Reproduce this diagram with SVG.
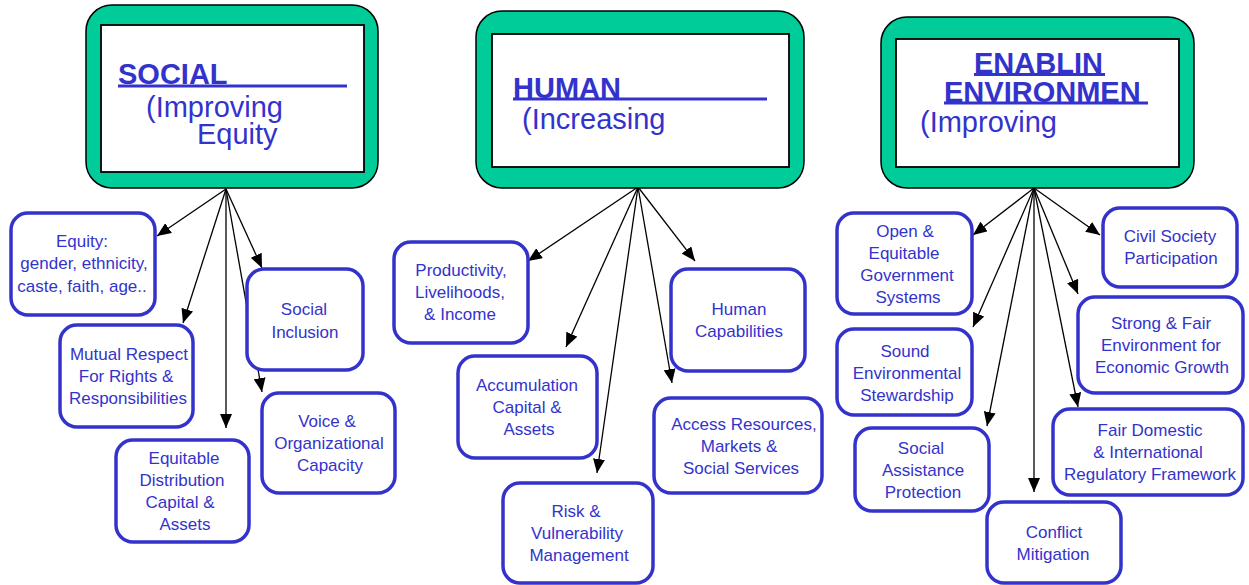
<svg xmlns="http://www.w3.org/2000/svg" width="1249" height="585" viewBox="0 0 1249 585">
<defs>
<style>
.hdr-out{fill:#00CC99;stroke:#000;stroke-width:1.5}
.hdr-in{fill:#fff;stroke:#000;stroke-width:1.8}
.hb{font-family:"Liberation Sans",Arial,sans-serif;font-size:29px;font-weight:bold;fill:#3333CC}
.hr{font-family:"Liberation Sans",Arial,sans-serif;font-size:29px;fill:#3333CC}
.ul{stroke:#3333CC;stroke-width:2.8}
.box{fill:#fff;stroke:#3333CC;stroke-width:3.5}
.bt{font-family:"Liberation Sans",Arial,sans-serif;font-size:17px;fill:#3333CC;text-anchor:middle}
.con{stroke:#000;stroke-width:1.3;fill:none;marker-end:url(#ah)}
</style>
<marker id="ah" markerUnits="userSpaceOnUse" markerWidth="14" markerHeight="12" refX="14" refY="6" orient="auto">
<path d="M0,0 L14,6 L0,12 Z" fill="#000"/>
</marker>
</defs>
<rect width="1249" height="585" fill="#fff"/>

<g id="connectors">
<line class="con" x1="226" y1="189" x2="157" y2="236"/>
<line class="con" x1="226" y1="189" x2="183" y2="323"/>
<line class="con" x1="226" y1="189" x2="226" y2="428"/>
<line class="con" x1="226" y1="189" x2="262" y2="268"/>
<line class="con" x1="226" y1="189" x2="262" y2="392"/>

<line class="con" x1="638" y1="187" x2="528" y2="261"/>
<line class="con" x1="638" y1="187" x2="566" y2="347"/>
<line class="con" x1="638" y1="187" x2="597" y2="473"/>
<line class="con" x1="638" y1="187" x2="672" y2="383"/>
<line class="con" x1="638" y1="187" x2="695" y2="261"/>

<line class="con" x1="1034" y1="188" x2="973" y2="235"/>
<line class="con" x1="1034" y1="188" x2="973" y2="327"/>
<line class="con" x1="1034" y1="188" x2="987" y2="426"/>
<line class="con" x1="1034" y1="188" x2="1034" y2="492"/>
<line class="con" x1="1034" y1="188" x2="1078" y2="407"/>
<line class="con" x1="1034" y1="188" x2="1078" y2="294"/>
<line class="con" x1="1034" y1="188" x2="1100" y2="235"/>
</g>

<g id="social">
<rect class="hdr-out" x="86" y="5" width="292" height="183" rx="26"/>
<rect class="hdr-in" x="101" y="25" width="263" height="147"/>
<text class="hb" x="118" y="84">SOCIAL</text>
<line class="ul" x1="118" y1="86" x2="347" y2="86"/>
<text class="hr" x="146" y="117">(Improving</text>
<text class="hr" x="197" y="144">Equity</text>
</g>

<g id="human">
<rect class="hdr-out" x="476" y="11" width="328" height="177" rx="26"/>
<rect class="hdr-in" x="492" y="34" width="297" height="133"/>
<text class="hb" x="513" y="98">HUMAN</text>
<line class="ul" x1="513" y1="99" x2="767" y2="99"/>
<text class="hr" x="522" y="129">(Increasing</text>
</g>

<g id="enabling">
<rect class="hdr-out" x="881" y="17" width="313" height="171" rx="26"/>
<rect class="hdr-in" x="896" y="39" width="283" height="128"/>
<text class="hb" x="974" y="73">ENABLIN</text>
<line class="ul" x1="974" y1="74.5" x2="1105" y2="74.5"/>
<text class="hb" x="944" y="102">ENVIRONMEN</text>
<line class="ul" x1="944" y1="103" x2="1148" y2="103"/>
<text class="hr" x="920" y="132">(Improving</text>
</g>

<g id="equity">
<rect class="box" x="11" y="213" width="144" height="102" rx="17"/>
<text class="bt" x="82" y="247">Equity:</text>
<text class="bt" x="84" y="269">gender, ethnicity,</text>
<text class="bt" x="82" y="292">caste, faith, age..</text>
</g>
<g id="social-inclusion">
<rect class="box" x="247" y="269" width="116" height="101" rx="17"/>
<text class="bt" x="304" y="315">Social</text>
<text class="bt" x="305" y="338">Inclusion</text>
</g>
<g id="mutual-respect">
<rect class="box" x="60" y="325" width="133" height="102" rx="17"/>
<text class="bt" x="129" y="360">Mutual Respect</text>
<text class="bt" x="126" y="382">For Rights &amp;</text>
<text class="bt" x="128" y="404">Responsibilities</text>
</g>
<g id="equitable-distribution">
<rect class="box" x="116" y="440" width="133" height="102" rx="17"/>
<text class="bt" x="184" y="464">Equitable</text>
<text class="bt" x="182" y="486">Distribution</text>
<text class="bt" x="180" y="508">Capital &amp;</text>
<text class="bt" x="185" y="530">Assets</text>
</g>
<g id="voice">
<rect class="box" x="262" y="393" width="133" height="100" rx="17"/>
<text class="bt" x="327" y="427">Voice &amp;</text>
<text class="bt" x="329" y="449">Organizational</text>
<text class="bt" x="330" y="471">Capacity</text>
</g>

<g id="productivity">
<rect class="box" x="394" y="242" width="134" height="101" rx="17"/>
<text class="bt" x="461" y="276">Productivity,</text>
<text class="bt" x="460" y="298">Livelihoods,</text>
<text class="bt" x="460" y="320">&amp; Income</text>
</g>
<g id="human-capabilities">
<rect class="box" x="671" y="269" width="134" height="102" rx="17"/>
<text class="bt" x="739" y="315">Human</text>
<text class="bt" x="739" y="337">Capabilities</text>
</g>
<g id="accumulation">
<rect class="box" x="458" y="356" width="139" height="102" rx="17"/>
<text class="bt" x="527" y="391">Accumulation</text>
<text class="bt" x="527" y="413">Capital &amp;</text>
<text class="bt" x="529" y="435">Assets</text>
</g>
<g id="access">
<rect class="box" x="654" y="398" width="168" height="95" rx="17"/>
<text class="bt" x="744" y="430">Access Resources,</text>
<text class="bt" x="739" y="452">Markets &amp;</text>
<text class="bt" x="741" y="474">Social Services</text>
</g>
<g id="risk">
<rect class="box" x="503" y="483" width="150" height="100" rx="17"/>
<text class="bt" x="576" y="517">Risk &amp;</text>
<text class="bt" x="577" y="539">Vulnerability</text>
<text class="bt" x="579" y="561">Management</text>
</g>

<g id="open-equitable">
<rect class="box" x="837" y="213" width="135" height="101" rx="17"/>
<text class="bt" x="905" y="237">Open &amp;</text>
<text class="bt" x="904" y="259">Equitable</text>
<text class="bt" x="907" y="281">Government</text>
<text class="bt" x="908" y="303">Systems</text>
</g>
<g id="civil-society">
<rect class="box" x="1103" y="208" width="134" height="79" rx="17"/>
<text class="bt" x="1170" y="242">Civil Society</text>
<text class="bt" x="1171" y="264">Participation</text>
</g>
<g id="strong-fair">
<rect class="box" x="1078" y="297" width="165" height="96" rx="17"/>
<text class="bt" x="1161" y="329">Strong &amp; Fair</text>
<text class="bt" x="1161" y="351">Environment for</text>
<text class="bt" x="1162" y="373">Economic Growth</text>
</g>
<g id="sound">
<rect class="box" x="837" y="329" width="135" height="86" rx="17"/>
<text class="bt" x="905" y="357">Sound</text>
<text class="bt" x="907" y="379">Environmental</text>
<text class="bt" x="907" y="401">Stewardship</text>
</g>
<g id="social-assistance">
<rect class="box" x="855" y="428" width="134" height="83" rx="17"/>
<text class="bt" x="921" y="454">Social</text>
<text class="bt" x="923" y="476">Assistance</text>
<text class="bt" x="923" y="498">Protection</text>
</g>
<g id="fair-domestic">
<rect class="box" x="1053" y="409" width="190" height="86" rx="17"/>
<text class="bt" x="1150" y="436">Fair Domestic</text>
<text class="bt" x="1148" y="458">&amp; International</text>
<text class="bt" x="1150" y="480">Regulatory Framework</text>
</g>
<g id="conflict">
<rect class="box" x="987" y="502" width="134" height="81" rx="17"/>
<text class="bt" x="1054" y="538">Conflict</text>
<text class="bt" x="1053" y="560">Mitigation</text>
</g>
</svg>
